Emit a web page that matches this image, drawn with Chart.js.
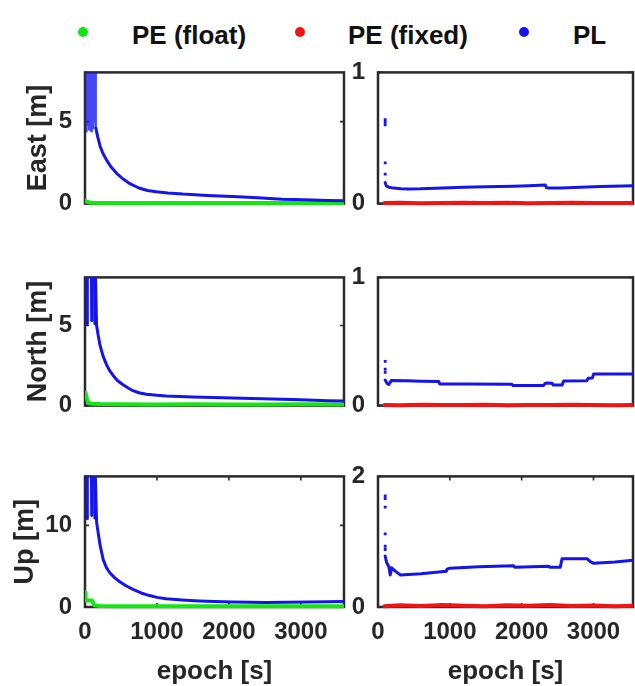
<!DOCTYPE html>
<html>
<head>
<meta charset="utf-8">
<script src="https://cdn.jsdelivr.net/npm/chart.js@4.4.1/dist/chart.umd.min.js"></script>
<style>
html,body{margin:0;padding:0;background:#fff;}
#wrap{position:relative;width:635px;height:686px;overflow:hidden;background:#fff;font-family:'Liberation Sans',Arial,Helvetica,sans-serif;}
.pane{position:absolute;}
.pane canvas{display:block;}
.leg{position:absolute;top:20px;font-weight:bold;font-size:26px;line-height:30px;color:#111;white-space:nowrap;}
.dot{position:absolute;width:10px;height:10px;border-radius:50%;top:27px;}
</style>
</head>
<body>
<div id="wrap">
  <div class="dot" style="left:78px;background:rgb(20,230,20)"></div>
  <div class="leg" style="left:132px">PE (float)</div>
  <div class="dot" style="left:295px;background:rgb(240,20,20)"></div>
  <div class="leg" style="left:348px">PE (fixed)</div>
  <div class="dot" style="left:519px;background:rgb(20,20,235)"></div>
  <div class="leg" style="left:573px">PL</div>
</div>
<script>
// ---------- tick labels ----------
const xTickVals = [0, 1000, 2000, 3000];
const yTicksEN = [0, 5];
const yTicksUp = [0, 10];
const yTicksFixEN = [0, 1];
const yTicksFixUp = [0, 2];

// ---------- East, float solution (left) ----------
const eastPLx = [0, 8, 16, 24, 32, 40, 48, 56, 64, 72, 80, 88, 96, 104, 112, 120, 128, 136, 144, 152, 160, 175, 210, 250, 300, 360, 440, 530, 630, 750, 870, 990, 1150, 1360, 1700, 2050, 2400, 2740, 3050, 3380, 3600];
const eastPLy = [9, 4.6, 9, 4.4, 9, 4.8, 9, 4.5, 9, 4.7, 9, 4.4, 9, 4.9, 9, 4.6, 9, 5.0, 8.5, 4.6, 4.4, 4.1, 3.5, 3.05, 2.65, 2.25, 1.85, 1.5, 1.2, 0.95, 0.8, 0.72, 0.65, 0.58, 0.5, 0.43, 0.35, 0.27, 0.23, 0.19, 0.17];
const eastPEx = [0, 20, 50, 100, 200, 400, 800, 1200, 1600, 2000, 2400, 2800, 3200, 3600];
const eastPEy = [0.2, 0.12, 0.08, 0.05, 0.04, 0.03, 0.04, 0.03, 0.04, 0.03, 0.03, 0.04, 0.03, 0.03];

// ---------- North, float solution (left) ----------
const northPLx = [28, 31, 34, 89, 92, 95, 135, 138, 141, 161, 185, 207, 250, 299, 340, 391, 450, 529, 600, 667, 750, 851, 1000, 1126, 1500, 2046, 2600, 3000, 3380, 3600];
const northPLy = [9, 5.1, 9, 9, 5.3, 9, 9, 5.1, 9, 5.0, 4.35, 3.8, 3.1, 2.56, 2.2, 1.88, 1.57, 1.3, 1.1, 0.93, 0.8, 0.71, 0.64, 0.6, 0.53, 0.47, 0.41, 0.36, 0.31, 0.29];
const northPEx = [0, 10, 20, 30, 45, 60, 100, 200, 500, 1000, 1500, 2000, 2500, 3000, 3600];
const northPEy = [0.8, 0.7, 0.6, 0.35, 0.2, 0.15, 0.12, 0.1, 0.08, 0.07, 0.08, 0.07, 0.07, 0.08, 0.07];

// ---------- Up, float solution (left) ----------
const upPLx = [28, 31, 34, 89, 92, 95, 135, 138, 141, 161, 207, 253, 300, 345, 410, 483, 570, 667, 780, 897, 1000, 1126, 1350, 1586, 1800, 2046, 2300, 2506, 2800, 3100, 3380, 3600];
const upPLy = [17, 10.8, 17, 17, 11.2, 17, 17, 10.9, 17, 10.4, 7.7, 5.8, 4.8, 4.2, 3.6, 3.1, 2.6, 2.15, 1.72, 1.4, 1.18, 1.0, 0.85, 0.73, 0.66, 0.61, 0.57, 0.54, 0.58, 0.62, 0.65, 0.66];
const upPEx = [0, 5, 10, 15, 60, 100, 130, 200, 500, 1000, 1500, 2000, 2500, 3000, 3600];
const upPEy = [1.8, 1.4, 0.8, 0.8, 0.8, 0.8, 0.2, 0.12, 0.1, 0.1, 0.09, 0.1, 0.1, 0.1, 0.1];

// ---------- East, fixed solution (right) ----------
const eastFixDotX = [100, 100, 100, 100, 100];
const eastFixDotY = [0.64, 0.62, 0.60, 0.31, 0.225];
const eastFixPLx = [100, 115, 150, 220, 320, 420, 591, 800, 1000, 1193, 1500, 1889, 2100, 2330, 2345, 2376, 2550, 2816, 3100, 3558];
const eastFixPLy = [0.16, 0.135, 0.125, 0.118, 0.113, 0.112, 0.113, 0.117, 0.121, 0.125, 0.128, 0.132, 0.136, 0.141, 0.122, 0.118, 0.119, 0.125, 0.13, 0.137];
const eastFixPEx = [90, 300, 600, 900, 1200, 1500, 1800, 2100, 2400, 2700, 3000, 3300, 3600];
const eastFixPEy = [0.004, 0.006, 0.003, 0.005, 0.007, 0.004, 0.006, 0.003, 0.005, 0.006, 0.004, 0.005, 0.004];

// ---------- North, fixed solution (right) ----------
const northFixDotX = [100, 100, 100];
const northFixDotY = [0.345, 0.285, 0.26];
const northFixPLx = [100, 125, 150, 185, 400, 600, 846, 860, 1200, 1866, 1880, 2306, 2330, 2353, 2423, 2440, 2562, 2585, 2909, 2925, 2985, 3002, 3300, 3600];
const northFixPLy = [0.2, 0.175, 0.165, 0.195, 0.193, 0.19, 0.188, 0.168, 0.168, 0.166, 0.156, 0.157, 0.175, 0.176, 0.175, 0.16, 0.16, 0.192, 0.194, 0.214, 0.216, 0.246, 0.246, 0.246];
const northFixPEx = [90, 300, 600, 900, 1200, 1500, 1800, 2100, 2400, 2700, 3000, 3300, 3600];
const northFixPEy = [0.005, 0.003, 0.006, 0.004, 0.005, 0.007, 0.003, 0.005, 0.004, 0.006, 0.005, 0.003, 0.005];

// ---------- Up, fixed solution (right) ----------
const upFixDotX = [100, 100, 100, 100, 100, 100];
const upFixDotY = [1.7, 1.66, 1.53, 1.12, 0.93, 0.88];
const upFixPLx = [100, 120, 150, 170, 190, 240, 313, 600, 950, 962, 1000, 1400, 1889, 1900, 2376, 2390, 2538, 2562, 2909, 2960, 3002, 3300, 3600];
const upFixPLy = [0.78, 0.68, 0.62, 0.49, 0.6, 0.55, 0.49, 0.51, 0.546, 0.58, 0.594, 0.615, 0.633, 0.61, 0.625, 0.61, 0.61, 0.74, 0.74, 0.69, 0.67, 0.69, 0.72];
const upFixPEx = [90, 300, 600, 900, 1200, 1500, 1800, 2100, 2400, 2700, 3000, 3300, 3600];
const upFixPEy = [0.012, 0.025, 0.015, 0.03, 0.02, 0.01, 0.025, 0.018, 0.03, 0.015, 0.022, 0.012, 0.02];

// ---------- styling ----------
const FONT = "'Liberation Sans', Arial, Helvetica, sans-serif";
const TXT = '#262626';
const BLUE = 'rgb(20,20,235)';
const BLUE_HAZE = 'rgba(25,25,240,0.8)';
const GREEN = 'rgb(20,230,20)';
const RED = 'rgb(240,20,20)';

function pts(xs, ys) { return xs.map((x, i) => ({x: x, y: ys[i]})); }
function lineSet(xs, ys, color, w, hazeUntil) {
  const ds = {data: pts(xs, ys), showLine: true, borderColor: color, backgroundColor: color,
    borderWidth: w, pointRadius: 0, tension: 0, borderJoinStyle: 'round', borderCapStyle: 'round',
    clip: {left: 0, top: 0, right: 0, bottom: 3}};
  if (hazeUntil) {
    ds.segment = {
      borderColor: c => (c.p1.parsed.x <= hazeUntil ? BLUE_HAZE : undefined),
      borderWidth: c => (c.p1.parsed.x <= hazeUntil ? 2 : undefined)
    };
  }
  return ds;
}
function dotSet(xs, ys, color) {
  return {data: pts(xs, ys), showLine: false, pointStyle: 'rect', pointRadius: 2,
    backgroundColor: color, borderWidth: 0, clip: {left: 0, top: 0, right: 0, bottom: 3}};
}

const framePlugin = {
  id: 'frame',
  beforeDatasetsDraw(chart, args, opts) {
    const ctx = chart.ctx, a = chart.chartArea, xs = chart.scales.x, ys = chart.scales.y;
    ctx.save();
    ctx.strokeStyle = '#2a2a2a';
    ctx.lineWidth = 2.5;
    ctx.strokeRect(a.left, a.top, a.right - a.left, a.bottom - a.top);
    ctx.lineWidth = 1.6;
    ctx.beginPath();
    (opts.yTicks || []).forEach(v => {
      const p = ys.getPixelForValue(v);
      ctx.moveTo(a.left, p); ctx.lineTo(a.left + 4, p);
      ctx.moveTo(a.right, p); ctx.lineTo(a.right - 4, p);
    });
    (opts.xTicks || []).forEach(v => {
      const p = xs.getPixelForValue(v);
      ctx.moveTo(p, a.top); ctx.lineTo(p, a.top + 4);
      ctx.moveTo(p, a.bottom); ctx.lineTo(p, a.bottom - 4);
    });
    ctx.stroke();
    ctx.restore();
  }
};

const wrap = document.getElementById('wrap');

function panel(p) {
  const div = document.createElement('div');
  div.className = 'pane';
  div.style.left = p.left + 'px';
  div.style.top = p.top + 'px';
  const cv = document.createElement('canvas');
  cv.width = p.w; cv.height = p.h;
  cv.style.width = p.w + 'px'; cv.style.height = p.h + 'px';
  div.appendChild(cv);
  wrap.appendChild(div);
  new Chart(cv, {
    type: 'scatter',
    data: {datasets: p.datasets},
    plugins: [framePlugin],
    options: {
      responsive: false, animation: false, devicePixelRatio: 1,
      layout: {padding: {top: 20, right: p.padRight, left: 0, bottom: 0}},
      plugins: {
        legend: {display: false}, tooltip: {enabled: false},
        frame: {yTicks: p.yTicks, xTicks: p.showX ? xTickVals : []}
      },
      scales: {
        x: {
          type: 'linear', min: 0, max: p.xMax,
          afterFit: s => { s.height = p.xAxisH; },
          afterBuildTicks: s => { s.ticks = xTickVals.map(v => ({value: v})); },
          grid: {display: false, drawTicks: false}, border: {display: false},
          ticks: {display: p.showX, color: TXT, padding: 11, maxRotation: 0, autoSkip: false,
            callback: v => String(v),
            font: {family: FONT, size: 24, weight: 'bold'}},
          title: {display: p.showX, text: 'epoch [s]', color: TXT, padding: {top: 0, bottom: -1},
            font: {family: FONT, size: 26, weight: 'bold'}}
        },
        y: {
          type: 'linear', min: 0, max: p.yMax,
          afterFit: s => { s.width = p.yAxisW; },
          afterBuildTicks: s => { s.ticks = p.yTicks.map(v => ({value: v})); },
          grid: {display: false, drawTicks: false}, border: {display: false},
          ticks: {color: TXT, padding: 13, autoSkip: false,
            callback: v => String(v),
            font: {family: FONT, size: 24, weight: 'bold'}},
          title: {display: !!p.yTitle, text: p.yTitle || '', color: TXT,
            padding: {top: p.titlePad || 0, bottom: 0},
            font: {family: FONT, size: 27, weight: 'bold'}}
        }
      }
    }
  });
}

const L = {left: 0, w: 351, padRight: 7, yAxisW: 85, xMax: 3600};
const R = {left: 345, w: 295, padRight: 7, yAxisW: 33, xMax: 3550};
const rows = [
  {top: 45, h: 186, xAxisH: 26, showX: false},
  {top: 250, h: 183, xAxisH: 26, showX: false},
  {top: 449, h: 237, xAxisH: 79, showX: true}
];

panel(Object.assign({}, L, rows[0], {yMax: 8, yTicks: yTicksEN, yTitle: 'East [m]', titlePad: 22,
  datasets: [lineSet(eastPLx, eastPLy, BLUE, 3, 152), lineSet(eastPEx, eastPEy, GREEN, 4)]}));
panel(Object.assign({}, R, rows[0], {yMax: 1, yTicks: yTicksFixEN,
  datasets: [lineSet(eastFixPLx, eastFixPLy, BLUE, 3), dotSet(eastFixDotX, eastFixDotY, BLUE), lineSet(eastFixPEx, eastFixPEy, RED, 4)]}));
panel(Object.assign({}, L, rows[1], {yMax: 8, yTicks: yTicksEN, yTitle: 'North [m]', titlePad: 22,
  datasets: [lineSet(northPLx, northPLy, BLUE, 3), lineSet(northPEx, northPEy, GREEN, 4)]}));
panel(Object.assign({}, R, rows[1], {yMax: 1, yTicks: yTicksFixEN,
  datasets: [lineSet(northFixPLx, northFixPLy, BLUE, 3), dotSet(northFixDotX, northFixDotY, BLUE), lineSet(northFixPEx, northFixPEy, RED, 4)]}));
panel(Object.assign({}, L, rows[2], {yMax: 16, yTicks: yTicksUp, yTitle: 'Up [m]', titlePad: 9,
  datasets: [lineSet(upPLx, upPLy, BLUE, 3), lineSet(upPEx, upPEy, GREEN, 4)]}));
panel(Object.assign({}, R, rows[2], {yMax: 2, yTicks: yTicksFixUp,
  datasets: [lineSet(upFixPLx, upFixPLy, BLUE, 3), dotSet(upFixDotX, upFixDotY, BLUE), lineSet(upFixPEx, upFixPEy, RED, 4)]}));
</script>
</body>
</html>
